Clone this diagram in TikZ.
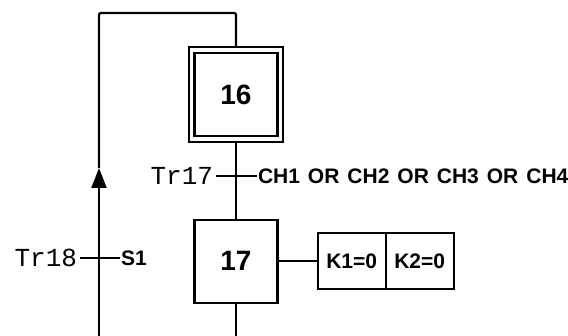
\documentclass[tikz,border=0pt]{standalone}
\usepackage{fontspec}
\setmainfont{Liberation Sans}
\newfontfamily\monofnt{Liberation Mono}
\usetikzlibrary{positioning,arrows.meta,fit}
\newcommand{\stepfont}{\fontsize{28}{30}\selectfont\bfseries}
\newcommand{\condfont}{\fontsize{21}{24}\selectfont\bfseries}
\newcommand{\trfont}{\fontsize{26}{28}\selectfont\monofnt}

\begin{document}
\begin{tikzpicture}[x=1pt,y=-1pt,line width=2.3pt,>=Triangle,
  etape/.style={draw,minimum size=83pt,inner sep=0pt,font=\stepfont},
  act/.style={draw,minimum width=68pt,minimum height=56pt,inner sep=0pt,outer sep=0pt,font=\condfont},
  cond/.style={font=\condfont,inner sep=1pt,outer sep=0pt,anchor=west},
  trlbl/.style={font=\trfont,inner sep=3pt,outer sep=0pt,anchor=east}]
  \useasboundingbox (0,0) rectangle (568,336);
  % steps
  \node[etape] (s16) at (236,94.5) {16};
  \node[draw,line width=1.8pt,fit=(s16),inner sep=4.5pt] (s16o) {};
  \node[etape,below=76pt of s16o] (s17) {17};
  \node[act,right=39pt of s17] (k1) {K1=0};
  \node[act,right=0pt of k1] (k2) {K2=0};
  % transitions
  \node[trlbl] (tr17) at (216,176) {Tr17};
  \node[cond] (c17) at (257,176) {\spaceskip=.38em CH1 OR CH2 OR CH3 OR CH4};
  \node[trlbl] (tr18) at (80,258) {Tr18};
  \node[cond] (c18) at (120,258) {S1};
  \coordinate (bot) at (236,336);
  \coordinate (topR) at (236,13);
  \coordinate (topL) at (99,13);
  \coordinate (botL) at (99,336);
  \coordinate (arr) at (99,168);
  % links
  \draw (s16o) -- (s17);
  \draw (s17) -- (bot);
  \draw (s17) -- (k1);
  \draw (tr17.east) -- (c17.west);
  \draw (tr18.east) -- (c18.west);
  \draw[->,>={Triangle[width=15pt,length=20pt]}] (botL) -- (arr);
  \draw[rounded corners=2pt] (arr) -- (topL) -- (topR) -- (s16o.north);
\end{tikzpicture}
\end{document}
